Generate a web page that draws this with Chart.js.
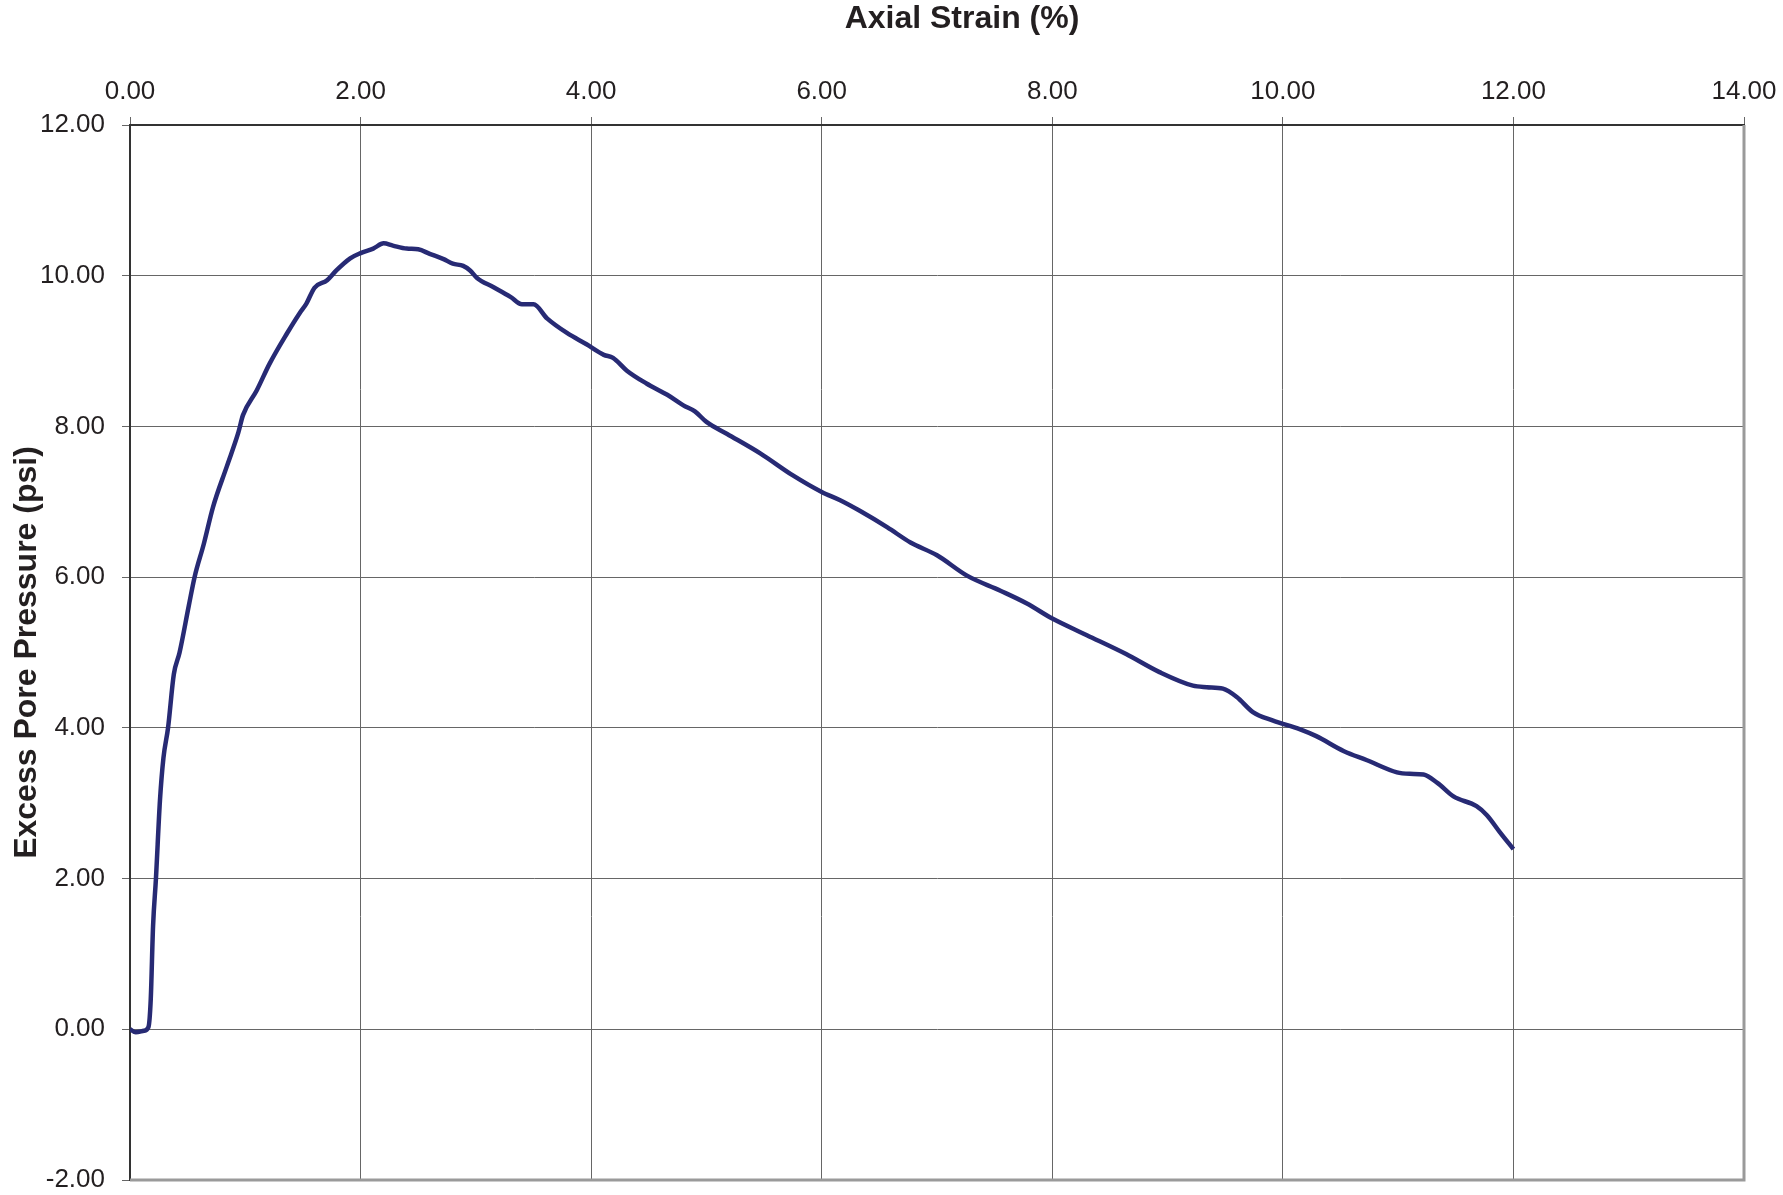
<!DOCTYPE html>
<html>
<head>
<meta charset="utf-8">
<title>Excess Pore Pressure vs Axial Strain</title>
<script src="https://cdn.jsdelivr.net/npm/chart.js@4.4.1/dist/chart.umd.min.js"></script>
<style>
    body { margin: 0; background: #fff; }
    #grafico { display: block; }
</style>
</head>
<body>
<canvas id="grafico" width="1783" height="1195"></canvas>
<script>
// strain (%) and excess pore pressure (psi) readings
const strain = [
    0.00, 0.05, 0.12, 0.16, 0.18, 0.20, 0.225, 0.26, 0.29, 0.33,
    0.38, 0.43, 0.51, 0.56, 0.64, 0.72, 0.84, 0.94, 0.98, 1.10,
    1.21, 1.36, 1.47, 1.53, 1.60, 1.71, 1.79, 1.91, 2.00, 2.11,
    2.20, 2.28, 2.40, 2.50, 2.60, 2.72, 2.80, 2.89, 2.95, 3.01,
    3.15, 3.30, 3.40, 3.50, 3.62, 3.79, 3.96, 4.11, 4.19, 4.31,
    4.48, 4.66, 4.80, 4.90, 5.00, 5.18, 5.47, 5.75, 6.00, 6.16,
    6.33, 6.57, 6.77, 7.00, 7.26, 7.55, 7.78, 8.00, 8.30, 8.64,
    8.93, 9.22, 9.34, 9.48, 9.60, 9.74, 9.91, 10.15, 10.29, 10.53,
    10.73, 10.99, 11.10, 11.22, 11.34, 11.48, 11.68, 11.77, 11.88, 12.00
];
const pressure = [
    0.00, -0.04, -0.02, 0.03, 0.40, 1.37, 2.00, 3.04, 3.60, 4.00,
    4.71, 5.00, 5.62, 6.00, 6.44, 6.93, 7.47, 7.92, 8.15, 8.48,
    8.83, 9.23, 9.50, 9.63, 9.84, 9.94, 10.07, 10.23, 10.30, 10.36,
    10.43, 10.40, 10.36, 10.35, 10.29, 10.22, 10.16, 10.13, 10.07, 9.97,
    9.85, 9.72, 9.62, 9.62, 9.43, 9.24, 9.09, 8.95, 8.91, 8.74,
    8.57, 8.42, 8.28, 8.20, 8.06, 7.90, 7.64, 7.35, 7.13, 7.02,
    6.88, 6.66, 6.46, 6.29, 6.02, 5.82, 5.65, 5.45, 5.23, 4.98,
    4.74, 4.56, 4.54, 4.52, 4.41, 4.21, 4.10, 3.98, 3.89, 3.69,
    3.57, 3.41, 3.39, 3.38, 3.27, 3.09, 2.96, 2.84, 2.62, 2.39
];

const xTicks = [0, 2, 4, 6, 8, 10, 12, 14];
const yTicks = [-2, 0, 2, 4, 6, 8, 10, 12];

const fonte = '"Liberation Sans", Arial, Helvetica, sans-serif';
const corTexto = '#231f20';

// light frame on the right and bottom of the plot area
const moldura = {
    id: 'moldura',
    beforeDatasetsDraw(chart) {
        const { ctx, chartArea: a } = chart;
        ctx.save();
        ctx.strokeStyle = '#9a9a9a';
        ctx.lineWidth = 3;
        ctx.beginPath();
        ctx.moveTo(a.left, a.bottom);
        ctx.lineTo(a.right, a.bottom);
        ctx.lineTo(a.right, a.top);
        ctx.stroke();
        ctx.restore();
    }
};

// strain axis title, sitting a little right of the plot centre
const tituloX = {
    id: 'tituloX',
    afterDraw(chart) {
        const { ctx, chartArea: a } = chart;
        ctx.save();
        ctx.font = 'bold 32px ' + fonte;
        ctx.fillStyle = corTexto;
        ctx.textAlign = 'center';
        ctx.textBaseline = 'middle';
        ctx.fillText('Axial Strain (%)', (a.left + a.right) / 2 + 25, 19);
        ctx.restore();
    }
};

function criarGrafico() {
    const ctx = document.getElementById('grafico').getContext('2d');
    const pontos = strain.map((x, i) => ({ x: x, y: pressure[i] }));

    new Chart(ctx, {
        type: 'line',
        data: {
            datasets: [{
                data: pontos,
                borderColor: '#272a74',
                borderWidth: 4.5,
                pointRadius: 0,
                fill: false,
                cubicInterpolationMode: 'monotone'
            }]
        },
        options: {
            responsive: false,
            animation: false,
            layout: { padding: { top: 0, left: 0, right: 39, bottom: 15 } },
            plugins: {
                legend: { display: false },
                tooltip: { enabled: false }
            },
            scales: {
                x: {
                    type: 'linear',
                    position: 'top',
                    min: 0,
                    max: 14,
                    afterBuildTicks: s => { s.ticks = xTicks.map(v => ({ value: v })); },
                    afterFit: s => {
                        s.height = 125;
                        s.paddingLeft = 0;
                        s.paddingRight = 0;
                    },
                    grid: { color: '#666', lineWidth: 1, tickLength: 8 },
                    border: { color: '#333', width: 2 },
                    ticks: {
                        color: corTexto,
                        padding: 10,
                        font: { family: fonte, size: 26 },
                        callback: v => v.toFixed(2)
                    }
                },
                y: {
                    type: 'linear',
                    min: -2,
                    max: 12,
                    afterBuildTicks: s => { s.ticks = yTicks.map(v => ({ value: v })); },
                    afterFit: s => {
                        s.width = 130;
                        s.paddingTop = 0;
                        s.paddingBottom = 0;
                    },
                    grid: { color: '#666', lineWidth: 1, tickLength: 8 },
                    border: { color: '#333', width: 2 },
                    ticks: {
                        color: corTexto,
                        padding: 17,
                        font: { family: fonte, size: 26 },
                        callback: v => v.toFixed(2)
                    },
                    title: {
                        display: true,
                        text: 'Excess Pore Pressure (psi)',
                        color: corTexto,
                        padding: { top: 8, bottom: 0 },
                        font: { family: fonte, size: 32, weight: 'bold' }
                    }
                }
            }
        },
        plugins: [moldura, tituloX]
    });
}

criarGrafico();
</script>
</body>
</html>
